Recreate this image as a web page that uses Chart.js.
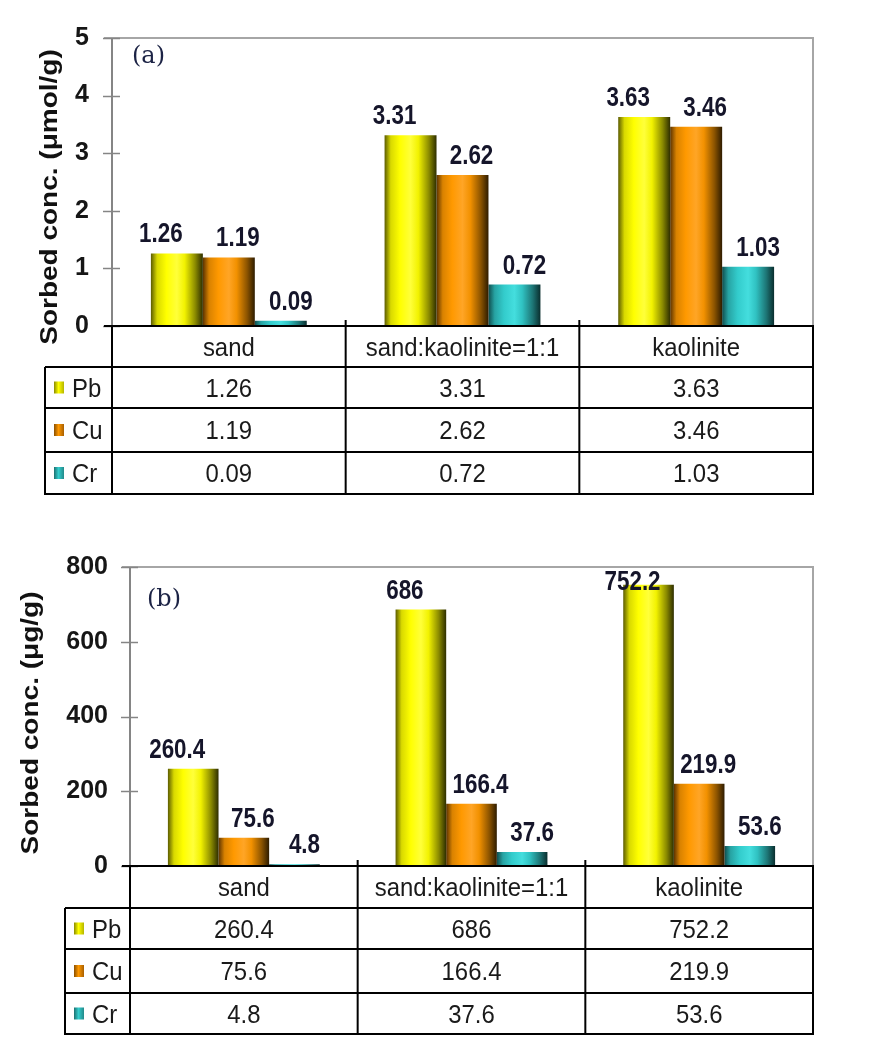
<!DOCTYPE html>
<html><head><meta charset="utf-8">
<script src="https://cdn.jsdelivr.net/npm/chart.js@4.4.1/dist/chart.umd.min.js"></script>
<style>
html,body{margin:0;padding:0;background:#fff;width:870px;height:1048px;overflow:hidden;}
canvas{position:absolute;left:0;}
#ca{top:0;} #cb{top:530px;}
</style></head><body>
<canvas id="ca" width="870" height="500"></canvas>
<canvas id="cb" width="870" height="518"></canvas>
<script>
// ---- data ----
const categories = ['sand', 'sand:kaolinite=1:1', 'kaolinite'];
const seriesNames = ['Pb', 'Cu', 'Cr'];
// (a) sorbed concentration, µmol/g
const pbMol = [1.26, 3.31, 3.63];
const cuMol = [1.19, 2.62, 3.46];
const crMol = [0.09, 0.72, 1.03];
// (b) sorbed concentration, µg/g
const pbMass = [260.4, 686, 752.2];
const cuMass = [75.6, 166.4, 219.9];
const crMass = [4.8, 37.6, 53.6];
// axis ticks
const yTicksA = [0, 1, 2, 3, 4, 5];
const yTicksB = [0, 200, 400, 600, 800];

// ---- styles ----
const SANS = '"Liberation Sans", Arial, sans-serif';
const STOPS = [0, 0.12, 0.3, 0.5, 0.65, 0.85, 1];
const GRAD = {
  Pb: ['#5c5c00', '#d9d900', '#ffff00', '#ffff3a', '#f2f200', '#8c8c00', '#2e2e00'],
  Cu: ['#5c3300', '#d98200', '#ff9900', '#ffa526', '#f29100', '#8c5400', '#2e1c00'],
  Cr: ['#0f4d4d', '#27a3a3', '#33cccc', '#44dede', '#30c2c2', '#1d7575', '#0a2e2e']
};
const ICON = {
  Pb: ['#8a8a00', '#ffff00', '#b5b500'],
  Cu: ['#8a4f00', '#ff9900', '#a85f00'],
  Cr: ['#1d7070', '#33cccc', '#238a8a']
};
const BASE = { Pb: '#ffff00', Cu: '#ff9900', Cr: '#33cccc' };
const LABEL_DX = { Pb: -16, Cu: 9, Cr: 10 };

function grad(ctx, x0, x1, cols, stops) {
  const g = ctx.createLinearGradient(x0, 0, x1, 0);
  const st = stops || STOPS;
  cols.forEach((c, i) => g.addColorStop(st[i], c));
  return g;
}
function txt(ctx, t, x, y, font, sx, align, color) {
  ctx.save();
  ctx.translate(x, y);
  ctx.scale(sx, 1);
  ctx.font = font;
  ctx.fillStyle = color;
  ctx.textAlign = align;
  ctx.textBaseline = 'alphabetic';
  ctx.fillText(t, 0, 0);
  ctx.restore();
}

const barShade = {
  id: 'barShade',
  beforeDatasetsDraw(chart) {
    const ctx = chart.ctx;
    chart.data.datasets.forEach((ds, i) => {
      chart.getDatasetMeta(i).data.forEach(el => {
        const w = el.width;
        try { el.options.backgroundColor = grad(ctx, el.x - w / 2, el.x + w / 2, GRAD[ds.label]); } catch (e) {}
      });
    });
  }
};

const decor = {
  id: 'decor',
  beforeDatasetsDraw(chart, args, o) {
    const ctx = chart.ctx, a = chart.chartArea, ys = chart.scales.y;
    ctx.save();
    ctx.strokeStyle = '#a6a6a6'; ctx.lineWidth = 2;
    ctx.beginPath();
    ctx.moveTo(a.left - 8, a.top); ctx.lineTo(a.right, a.top); ctx.lineTo(a.right, a.bottom);
    ctx.stroke();
    ctx.strokeStyle = '#858585';
    ctx.beginPath(); ctx.moveTo(a.left, a.top); ctx.lineTo(a.left, a.bottom); ctx.stroke();
    ctx.lineWidth = 1.5;
    ys.ticks.forEach(t => {
      const y = Math.round(ys.getPixelForValue(t.value)) + 0.5;
      ctx.beginPath(); ctx.moveTo(a.left - 9, y); ctx.lineTo(a.left + 8, y); ctx.stroke();
    });
    ctx.restore();
  },
  afterDraw(chart, args, o) {
    const ctx = chart.ctx, a = chart.chartArea;
    const ds = chart.data.datasets;
    // data labels
    ds.forEach((d, i) => {
      chart.getDatasetMeta(i).data.forEach((el, j) => {
        let yb = el.y - 11;
        yb = Math.max(yb, a.top + 23);
        txt(ctx, String(d.data[j]), el.x + LABEL_DX[d.label], yb, 'bold 28px ' + SANS, 0.8, 'center', '#15152a');
      });
    });
    // data table
    const rows = o.rows.map(r => a.bottom + r);
    const n = chart.data.labels.length;
    const cw = (a.right - a.left) / n;
    const L = o.legendLeft;
    ctx.save();
    ctx.strokeStyle = '#000'; ctx.lineWidth = 2;
    ctx.beginPath();
    ctx.moveTo(a.left - 8, rows[0]); ctx.lineTo(a.right + 1, rows[0]);
    for (let r = 1; r < rows.length; r++) { ctx.moveTo(L, rows[r]); ctx.lineTo(a.right + 1, rows[r]); }
    for (let k = 0; k <= n; k++) {
      const x = a.left + k * cw;
      ctx.moveTo(x, rows[0] - (k > 0 && k < n ? 6 : 0)); ctx.lineTo(x, rows[rows.length - 1] + 1);
    }
    ctx.moveTo(L, rows[1]); ctx.lineTo(L, rows[rows.length - 1] + 1);
    ctx.stroke();
    ctx.restore();
    const tf = '26px ' + SANS;
    chart.data.labels.forEach((c, k) => {
      const cx = a.left + (k + 0.5) * cw;
      txt(ctx, c, cx, (rows[0] + rows[1]) / 2 + 9, tf, 0.92, 'center', '#1a1a1a');
    });
    ds.forEach((d, i) => {
      const cy = (rows[i + 1] + rows[i + 2]) / 2;
      ctx.fillStyle = grad(ctx, L + 9, L + 19, ICON[d.label], [0, 0.45, 1]);
      ctx.fillRect(L + 9, cy - 6, 10, 12);
      txt(ctx, d.label, L + 27, cy + 9, tf, 0.92, 'left', '#1a1a1a');
      d.data.forEach((v, k) => {
        txt(ctx, String(v), a.left + (k + 0.5) * cw, cy + 9, tf, 0.92, 'center', '#1a1a1a');
      });
    });
    // y axis title
    ctx.save();
    ctx.translate(o.titleX, o.titleY);
    ctx.rotate(-Math.PI / 2);
    ctx.scale(1, 0.88);
    ctx.font = 'bold 28px ' + SANS;
    ctx.fillStyle = '#111';
    ctx.textAlign = 'center'; ctx.textBaseline = 'middle';
    ctx.fillText(o.title, 0, 0);
    ctx.restore();
    // panel label
    ctx.save();
    ctx.font = '24px "DejaVu Serif", "Liberation Serif", serif';
    ctx.fillStyle = '#1c2345';
    ctx.textAlign = 'left'; ctx.textBaseline = 'middle';
    ctx.fillText(o.panel[0], o.panel[1], o.panel[2]);
    ctx.restore();
  }
};

function makeChart(id, values, ticks, cfg) {
  const step = ticks[1] - ticks[0];
  return new Chart(document.getElementById(id), {
    type: 'bar',
    data: {
      labels: categories,
      datasets: seriesNames.map((s, i) => ({
        label: s,
        data: values[i],
        backgroundColor: () => BASE[s],
        borderWidth: 0,
        barPercentage: 1,
        categoryPercentage: 0.667
      }))
    },
    options: {
      responsive: false,
      animation: false,
      layout: { padding: { left: 0, top: cfg.top, right: 57, bottom: cfg.bottom } },
      plugins: {
        legend: { display: false },
        tooltip: { enabled: false },
        decor: cfg.decor
      },
      scales: {
        x: { display: false, offset: true },
        y: {
          min: ticks[0], max: ticks[ticks.length - 1],
          ticks: { stepSize: step, padding: cfg.tickPad, color: '#161616',
                   font: { family: SANS, weight: 'bold', size: 25 } },
          grid: { display: false, drawTicks: false },
          border: { display: false },
          afterFit(scale) { scale.width = cfg.axisW; }
        }
      }
    },
    plugins: [barShade, decor]
  });
}

makeChart('ca', [pbMol, cuMol, crMol], yTicksA, {
  top: 18, bottom: 174, axisW: 112, tickPad: 23,
  decor: { rows: [0, 41, 82, 126, 168], legendLeft: 45, title: 'Sorbed conc. (μmol/g)', titleX: 50, titleY: 197, panel: ['(a)', 132, 57] }
});
makeChart('cb', [pbMass, cuMass, crMass], yTicksB, {
  top: 28, bottom: 182, axisW: 130, tickPad: 22,
  decor: { rows: [0, 42, 83, 127, 168], legendLeft: 65, title: 'Sorbed conc. (μg/g)', titleX: 31, titleY: 193, panel: ['(b)', 147, 70] }
});
</script>
</body></html>
